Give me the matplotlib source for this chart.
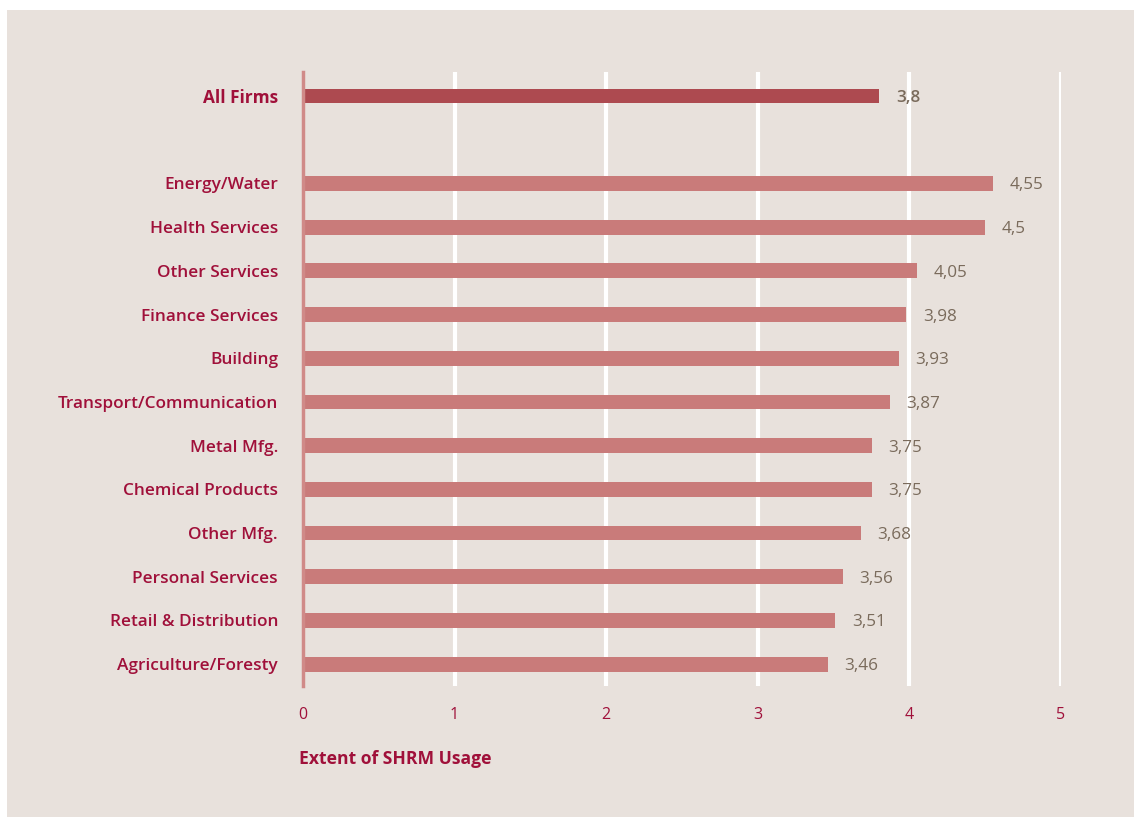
import matplotlib.pyplot as plt
from matplotlib.patches import Rectangle

plt.rcParams['font.family'] = ['Open Sans', 'DejaVu Sans']

categories = ["Agriculture/Foresty", "Retail & Distribution", "Personal Services",
              "Other Mfg.", "Chemical Products", "Metal Mfg.",
              "Transport/Communication", "Building", "Finance Services",
              "Other Services", "Health Services", "Energy/Water"]
values = [3.46, 3.51, 3.56, 3.68, 3.75, 3.75, 3.87, 3.93, 3.98, 4.05, 4.5, 4.55]
total_label = "All Firms"
total_value = 3.8
x_ticks = [0, 1, 2, 3, 4, 5]
x_title = "Extent of SHRM Usage"

BG = "#E8E1DC"
TEXT_RED = "#A0103A"
VALUE_GREY = "#7A6B5C"
BAR = "#C97B7A"
BAR_TOTAL = "#AD4A50"

W, H = 1134, 817
fig = plt.figure(figsize=(W / 100, H / 100), dpi=100, facecolor="white")
fig.patches.append(Rectangle((7 / W, 0), 1 - 7 / W, 1 - 10 / H,
                             transform=fig.transFigure, facecolor=BG,
                             edgecolor="none", zorder=-10))

ax = fig.add_axes([303 / W, 1 - 686 / H, (1061 - 303) / W, (686 - 72) / H])
ax.set_facecolor("none")

ypos = list(range(len(categories)))
total_y = len(categories) + 1

ax.barh(ypos, values, height=0.34, color=BAR, zorder=3)
ax.barh([total_y], [total_value], height=0.34, color=BAR_TOTAL, zorder=3)

for y, v in zip(ypos, values):
    ax.text(v + 0.11, y, f"{v:g}".replace(".", ","), va="center_baseline", ha="left",
            fontsize=12.3, color=VALUE_GREY)
ax.text(total_value + 0.11, total_y, f"{total_value:g}".replace(".", ","),
        va="center_baseline", ha="left", fontsize=12.3, color=VALUE_GREY,
        fontweight="semibold")

ax.set_xlim(0, 5)
ax.set_ylim(-0.5, total_y + 0.55)
ax.set_xticks(x_ticks)
ax.set_xticklabels([str(t) for t in x_ticks])
ax.set_yticks(ypos + [total_y])
ax.set_yticklabels(categories + [total_label])

ylabels = ax.get_yticklabels()
for lbl in ylabels:
    lbl.set_fontweight("semibold")
    lbl.set_color(TEXT_RED)
    lbl.set_fontsize(12.4)
ylabels[-1].set_fontweight("bold")
for lbl in ax.get_xticklabels():
    lbl.set_color(TEXT_RED)
    lbl.set_fontsize(11.5)

ax.tick_params(axis="both", length=0)
ax.tick_params(axis="y", pad=18)
ax.tick_params(axis="x", pad=15)

ax.grid(axis="x", color="white", linewidth=3, zorder=1)
ax.set_axisbelow(True)
for s in ["top", "right", "bottom"]:
    ax.spines[s].set_visible(False)
ax.spines["left"].set_color("#D08A88")
ax.spines["left"].set_linewidth(2.5)
ax.spines["left"].set_zorder(4)

fig.text(299 / W, 1 - 759 / H, x_title, ha="left", va="center",
         fontsize=12.6, fontweight="bold", color=TEXT_RED)

fig.savefig("out.png", dpi=100, facecolor=fig.get_facecolor())
